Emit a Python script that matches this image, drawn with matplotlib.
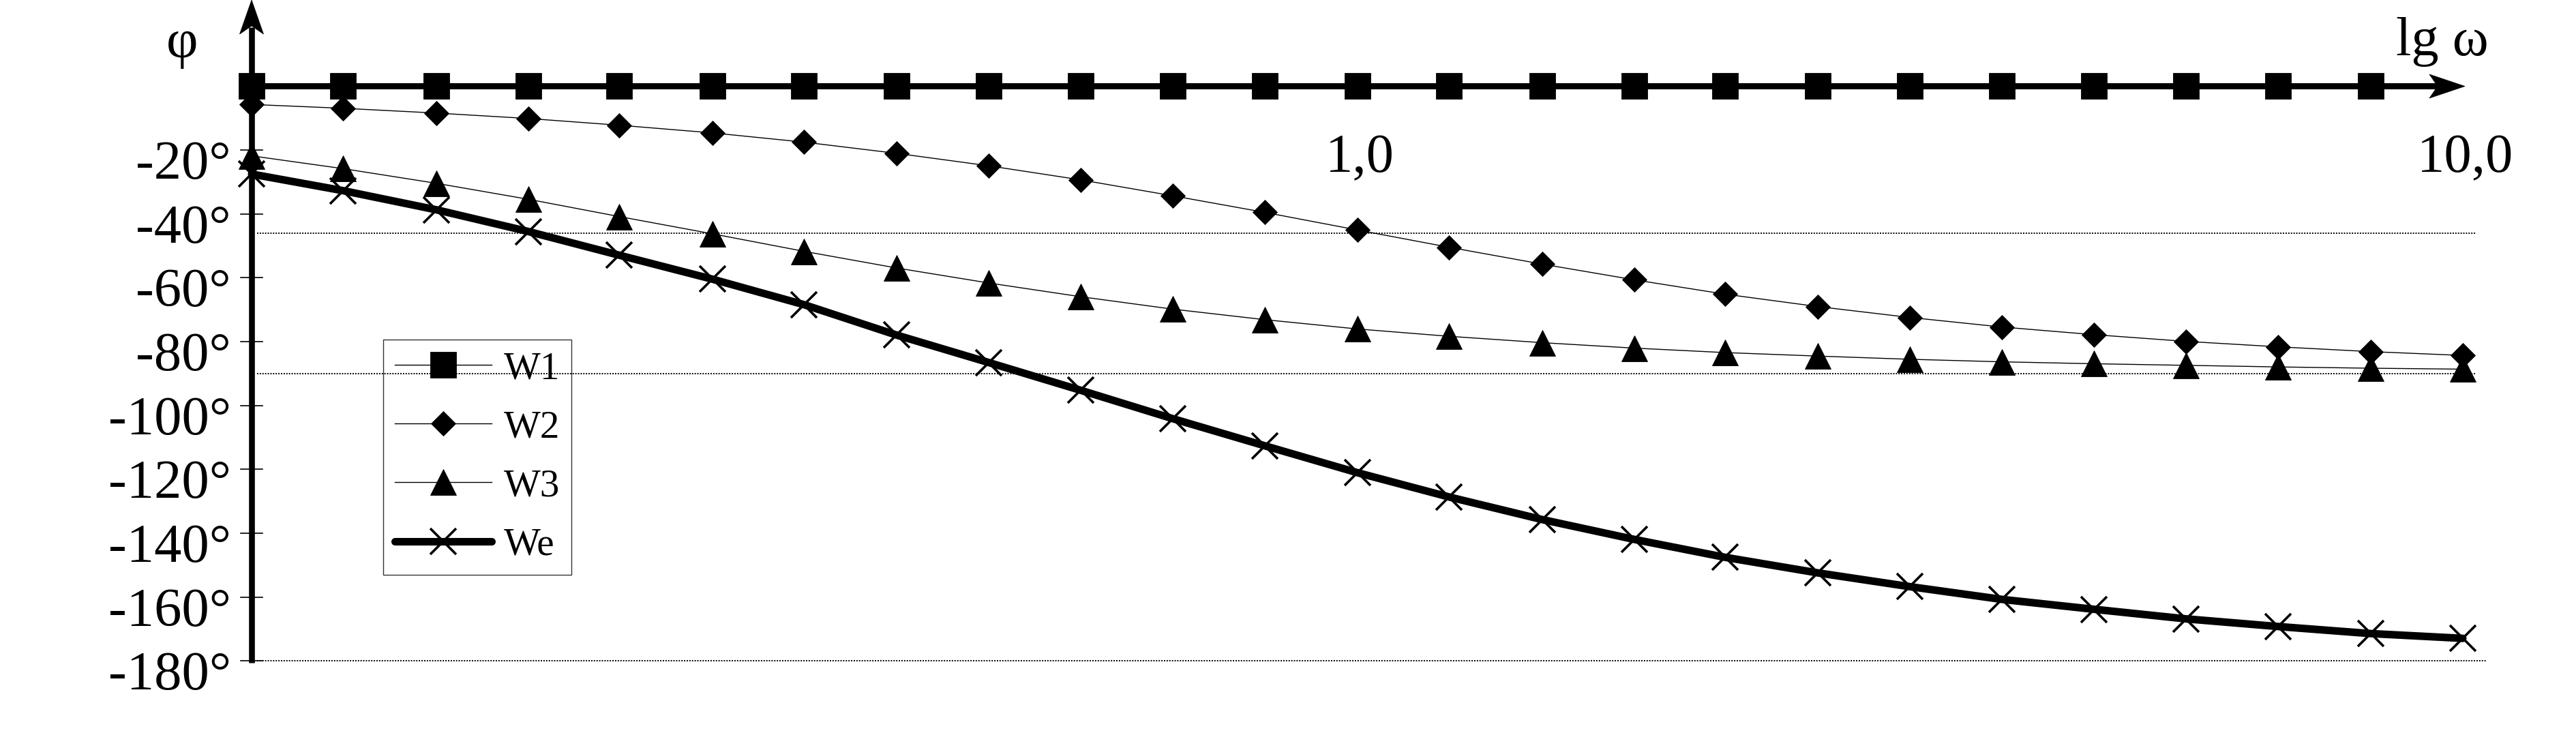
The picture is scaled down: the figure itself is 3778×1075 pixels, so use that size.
import matplotlib
matplotlib.use("Agg")
import matplotlib.pyplot as plt
from matplotlib.patches import Polygon
from matplotlib.transforms import IdentityTransform, offset_copy

# ---------------- data ----------------
omega = [0.1, 0.121, 0.147, 0.178, 0.215, 0.261, 0.316, 0.383, 0.464, 0.562,
         0.681, 0.825, 1.0, 1.21, 1.47, 1.78, 2.15, 2.61, 3.16, 3.83,
         4.64, 5.62, 6.81, 8.25, 10.0]
w1 = [0.0, 0.0, 0.0, 0.0, 0.0, 0.0, 0.0, 0.0, 0.0, 0.0, 0.0, 0.0,
      0.0, 0.0, 0.0, 0.0, 0.0, 0.0, 0.0, 0.0, 0.0, 0.0, 0.0, 0.0]
w2 = [-5.7, -6.9, -8.4, -10.1, -12.2, -14.6, -17.5, -21.0, -24.9, -29.3,
      -34.3, -39.5, -45.0, -50.4, -55.7, -60.6, -65.1, -69.0, -72.4, -75.4,
      -77.8, -79.9, -81.6, -83.1, -84.3]
w3 = [-21.8, -25.8, -30.4, -35.4, -40.8, -46.2, -51.7, -56.9, -61.6, -65.9,
      -69.8, -73.1, -76.0, -78.3, -80.3, -82.0, -83.4, -84.5, -85.5, -86.3,
      -86.9, -87.4, -87.9, -88.3, -88.6]
we = [-27.5, -32.7, -38.7, -45.5, -52.9, -60.4, -68.4, -77.9, -86.5, -95.2,
      -104.1, -112.6, -121.0, -128.6, -135.7, -141.9, -147.5, -152.4, -156.7, -160.7,
      -163.8, -166.8, -169.2, -171.4, -172.9]
series_labels = ["W1", "W2", "W3", "We"]
y_ticks = [-20, -40, -60, -80, -100, -120, -140, -160, -180]
y_tick_labels = ["-20°", "-40°", "-60°", "-80°", "-100°", "-120°", "-140°", "-160°", "-180°"]
x_ticks = [1.0, 10.0]
x_tick_labels = ["1,0", "10,0"]
grid_levels = [-46, -90, -180]
x_label = "lg ω"
y_label = "φ"

# ---------------- layout ----------------
W, H, DPI = 3778, 1075, 100
FONT = ["Liberation Serif", "DejaVu Serif"]
plt.rcParams["font.family"] = FONT

fig = plt.figure(figsize=(W / DPI, H / DPI), dpi=DPI)
ax = fig.add_axes([0, 0, 1, 1])
ax.set_xscale("log")
X0, PPD = 369.0, 1621.5      # pixel of omega=0.1, pixels per decade
Y0, PPG = 126.5, 4.683       # pixel of 0 deg (from top), pixels per degree
ax.set_xlim(10 ** (-1 - X0 / PPD), 10 ** (-1 + (W - X0) / PPD))
ax.set_ylim(-(H - Y0) / PPG, Y0 / PPG)
ax.axis("off")


def dx(px):
    return 10 ** (-1 + (px - X0) / PPD)


def dy(py):
    return -(py - Y0) / PPG


def arrowhead(tip, direction, length=52, width=35, notch=12, z=6):
    tx, ty = tip
    ty = H - ty
    if direction == "up":
        pts = [(tx, ty), (tx - width / 2, ty - length), (tx, ty - length + notch),
               (tx + width / 2, ty - length)]
    else:
        pts = [(tx, ty), (tx - length, ty + width / 2), (tx - length + notch, ty),
               (tx - length, ty - width / 2)]
    fig.patches.append(Polygon(pts, closed=True, facecolor="black", edgecolor="black",
                               lw=0.5, transform=IdentityTransform(), zorder=z))


# dotted reference lines
ax.hlines(grid_levels[:2], dx(377), dx(3631), colors="black", linestyles=(0, (1, 1)), lw=1.4, zorder=1)
ax.hlines(grid_levels[2:], dx(377), dx(3647), colors="black", linestyles=(0, (1, 1)), lw=1.4, zorder=1)

# axes with arrows
ax.plot([dx(X0), dx(X0)], [dy(972), dy(40)], color="black", lw=6.2, solid_capstyle="butt", zorder=5)
arrowhead((X0, 0), "up", length=50, width=35, notch=12)
ax.plot([dx(X0), dx(3575)], [0, 0], color="black", lw=6.5, solid_capstyle="butt", zorder=5)
arrowhead((3615, Y0), "right", length=52, width=35, notch=12)

# y ticks and labels
for v, lab in zip(y_ticks, y_tick_labels):
    ax.plot([dx(353), dx(385)], [v, v], color="black", lw=1.2, zorder=5)
    ax.text(dx(339), v, lab, ha="right", va="baseline", fontsize=58,
            transform=offset_copy(ax.transData, fig=fig, x=0, y=-42, units="dots"))

# x tick labels
for v, lab in zip(x_ticks, x_tick_labels):
    ax.text(v, 0, lab, ha="center", va="baseline", fontsize=58,
            transform=offset_copy(ax.transData, fig=fig, x=4, y=-126, units="dots"))

# axis names
ax.text(dx(3582), 0, x_label, ha="center", va="baseline", fontsize=58,
        transform=offset_copy(ax.transData, fig=fig, x=0, y=45, units="dots"))
ax.text(dx(267), 0, y_label, ha="center", va="baseline", fontsize=58,
        transform=offset_copy(ax.transData, fig=fig, x=0, y=42, units="dots"))

# series
ax.plot(omega[:len(w1)], w1, color="black", lw=1.0, marker="s", ms=27, mew=0.6,
        label=series_labels[0], zorder=7)
ax.plot(omega, w2, color="black", lw=1.0, marker="D", ms=18.5, mew=0.6,
        label=series_labels[1], zorder=7)
ax.plot(omega, w3, color="black", lw=1.0, marker="^", ms=27, mew=0.6,
        label=series_labels[2], zorder=7)
ax.plot(omega, we, color="black", lw=8.0, marker="x", ms=27, mew=2.6,
        solid_capstyle="round", solid_joinstyle="round", label=series_labels[3], zorder=8)

leg = ax.legend(loc="upper left", bbox_to_anchor=(562 / W, 1 - 498 / H),
                bbox_transform=fig.transFigure, borderaxespad=0,
                handlelength=2.5, handletextpad=0.3, borderpad=0.3,
                labelspacing=0.6, fancybox=False, frameon=True,
                prop={"family": FONT, "size": 41})
fr = leg.get_frame()
fr.set_facecolor("none")
fr.set_edgecolor("black")
fr.set_linewidth(1.0)
leg.set_zorder(9)

fig.savefig("out.png", dpi=DPI, facecolor="white")
